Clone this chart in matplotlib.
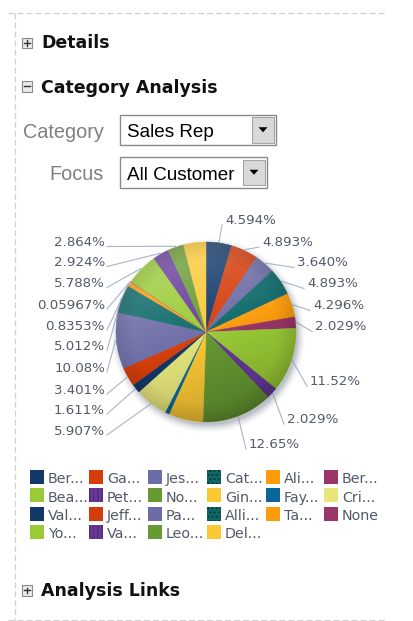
import numpy as np
import matplotlib
matplotlib.use("Agg")
import matplotlib.pyplot as plt
from matplotlib.patches import Rectangle, Circle, Polygon

plt.rcParams['lines.scale_dashes'] = False
plt.rcParams['hatch.linewidth'] = 0.8

# ---- data -------------------------------------------------------------
names = ["Ber...", "Ga...", "Jes...", "Cat...", "Ali...", "Ber...",
         "Bea...", "Pet...", "No...", "Gin...", "Fay...", "Cri...",
         "Val...", "Jeff...", "Pa...", "Alli...", "Ta...", "None",
         "Yo...", "Va...", "Leo...", "Del..."]
shares = [4.594, 4.893, 3.640, 4.893, 4.296, 2.029,
          11.52, 2.029, 12.65, 6.20, 0.75, 5.907,
          1.611, 3.401, 10.08, 5.012, 0.8353, 0.05967,
          5.788, 2.924, 2.864, 4.02]
# slices whose percentage is printed beside the pie
labelled = [True] * 9 + [False, False] + [True] * 10 + [False]

palette = ['#123868', '#d43d0a', '#6c6ca6', '#0d6868', '#fc9c0c', '#9a3668',
           '#9acb36', '#673a9a', '#679a32', '#fbc935', '#08689a', '#e6e67c']
hatches = ['', '', '', '....', '', '', '', '||||', '', '', '', '']
colors = [palette[i % 12] for i in range(len(shares))]

category_options = ["Sales Rep"]
focus_options = ["All Customer"]

# ---- canvas in pixel units -------------------------------------------
W, H = 414, 621
fig = plt.figure(figsize=(W / 100, H / 100), dpi=100)
fig.patch.set_facecolor('white')
ax = fig.add_axes([0, 0, 1, 1])

# ---- pie ----------------------------------------------------------------
cx, cy, R = 206, 332, 90
wedges, _ = ax.pie(shares, colors=colors, startangle=270, counterclock=True,
                   center=(cx, cy), radius=R, wedgeprops=dict(linewidth=0.3))
for w in wedges:
    w.set_edgecolor(w.get_facecolor())
    w.set_zorder(3)
ax.set_xlim(0, W)
ax.set_ylim(H, 0)
ax.axis('off')

# soft drop shadow around the disc
m = 300
s = np.linspace(-1.3, 1.3, m)
sx, sy = np.meshgrid(s, s)
d = np.hypot(sx - 0.025, sy - 0.04)
sh = np.zeros((m, m, 4))
sh[..., :3] = np.array([0.52, 0.55, 0.60])
sh[..., 3] = 0.55 * np.clip((1.09 - d) / 0.10, 0, 1) ** 1.6
ax.imshow(sh, extent=(cx - 1.3 * R, cx + 1.3 * R, cy + 1.3 * R, cy - 1.3 * R),
          interpolation='bilinear', zorder=2)

# glossy shading on top of the slices
n = 300
g = np.linspace(-1, 1, n)
xx, yy = np.meshgrid(g, g)
rr = np.hypot(xx, yy)
t = np.clip(0.35 * xx + 0.9 * yy, -1, 1)
clip = Circle((cx, cy), R, transform=ax.transData)
hi = np.ones((n, n, 4))
hi[..., 3] = 0.22 * np.clip(-t + 0.15, 0, 1)
im1 = ax.imshow(hi, extent=(cx - R, cx + R, cy + R, cy - R),
                interpolation='bilinear', zorder=4)
im1.set_clip_path(clip)
lo = np.zeros((n, n, 4))
lo[..., 3] = 0.20 * np.clip(t, 0, 1) + 0.10 * np.clip((rr - 0.8) / 0.2, 0, 1)
im2 = ax.imshow(lo, extent=(cx - R, cx + R, cy + R, cy - R),
                interpolation='bilinear', zorder=4)
im2.set_clip_path(clip)
ax.set_xlim(0, W)
ax.set_ylim(H, 0)

# ---- percentage labels with leader lines -----------------------------
label_color = '#535969'
line_color = '#aab5c6'
right_pos = [(225, 219), (262, 241), (297, 261.5), (307, 282.5), (313, 304.5),
             (315, 325.5), (310, 380), (287, 418), (249, 443)]
left_y = [430, 409, 389, 367, 345.5, 325, 304, 282.5, 261.5, 241.5]
left_x = 105

ri = 0
li = 0
for i, (w, v) in enumerate(zip(wedges, shares)):
    if not labelled[i]:
        continue
    mid = np.deg2rad((w.theta1 + w.theta2) / 2)
    ex, ey = cx + (R + 1) * np.cos(mid), cy + (R + 1) * np.sin(mid)
    txt = f"{v:#.4g}%"
    if np.cos(mid) >= -0.05 and i < 9:
        lx, ly = right_pos[ri]
        ri += 1
        ax.text(lx, ly + 4.8, txt, ha='left', va='baseline', fontsize=9.6,
                color=label_color, zorder=6)
        ax.plot([ex, lx - 3], [ey, ly + 6], color=line_color, lw=0.8, zorder=1)
    else:
        ly = left_y[li]
        li += 1
        ax.text(left_x, ly + 4.8, txt, ha='right', va='baseline', fontsize=9.6,
                color=label_color, zorder=6)
        ax.plot([left_x + 2, ex], [ly + 5, ey], color=line_color, lw=0.8, zorder=1)

# ---- legend -------------------------------------------------------------
col_x = [30, 89, 148, 207, 266, 324]
row_y0, row_dy = 470, 18.3
for i, name in enumerate(names):
    r, c = divmod(i, 6)
    x0, y0 = col_x[c], row_y0 + r * row_dy
    h = hatches[i % 12]
    ax.add_patch(Rectangle((x0, y0), 14, 14, facecolor=colors[i],
                           edgecolor='#0a3030' if h == '....' else ('#4d2a7a' if h else colors[i]),
                           hatch=h or None, lw=0, zorder=5))
    ax.text(x0 + 18, y0 + 13.3, name, ha='left', va='baseline', fontsize=10.3,
            color=label_color, zorder=6)

# ---- page chrome ----------------------------------------------------------
dash = dict(color='#d0d0d0', lw=0.9, linestyle=(0, (4.3, 2.2)), zorder=1)
ax.plot([8, 386], [13, 13], **dash)
ax.plot([8, 386], [620, 620], **dash)
ax.plot([15.5, 15.5], [13, 620], **dash)


def toggle_icon(x, y, expanded):
    ax.add_patch(Rectangle((x, y), 10.5, 10.5, facecolor='#ebebeb',
                           edgecolor='#8a8a8a', lw=0.8, zorder=5))
    ax.plot([x + 2.5, x + 8], [y + 5.25, y + 5.25], color='#333333', lw=1.0, zorder=6)
    if not expanded:
        ax.plot([x + 5.25, x + 5.25], [y + 2.5, y + 8], color='#333333', lw=1.0, zorder=6)


heading = dict(fontsize=12.5, fontweight='bold', color='#111111', va='baseline',
               family='DejaVu Sans')
toggle_icon(22, 37.5, False)
ax.text(41, 48.3, "Details", **heading)
toggle_icon(22, 81, True)
ax.text(41, 93.3, "Category Analysis", **heading)
toggle_icon(22, 585, False)
ax.text(41, 595.5, "Analysis Links", **heading)

form_lbl = dict(fontsize=14.3, color='#7f7f7f', ha='right', va='baseline',
                family='Liberation Sans')
ax.text(104, 137.5, "Category", **form_lbl)
ax.text(104, 180, "Focus", **form_lbl)


def dropdown(x, y, w, h, text):
    ax.add_patch(Rectangle((x, y), w, h, facecolor='white', edgecolor='#8a8a8a',
                           lw=1.0, zorder=5))
    bx = x + w - 24
    ax.add_patch(Rectangle((bx, y + 2.5), 22, h - 5, facecolor='#d9d9d9',
                           edgecolor='#a5a5a5', lw=0.8, zorder=6))
    tcx, tcy = bx + 11, y + h / 2
    ax.add_patch(Polygon([(tcx - 4.5, tcy - 2.5), (tcx + 4.5, tcy - 2.5), (tcx, tcy + 2.5)],
                         closed=True, facecolor='black', edgecolor='none', zorder=7))
    ax.text(x + 7, y + h / 2 + 7.5, text, fontsize=13.6, color='black',
            va='baseline', ha='left', family='Liberation Sans', zorder=7)


dropdown(120, 114.5, 156, 30.5, category_options[0])
dropdown(120, 157, 147, 30.5, focus_options[0])

fig.savefig("out.png", dpi=100, facecolor='white')
